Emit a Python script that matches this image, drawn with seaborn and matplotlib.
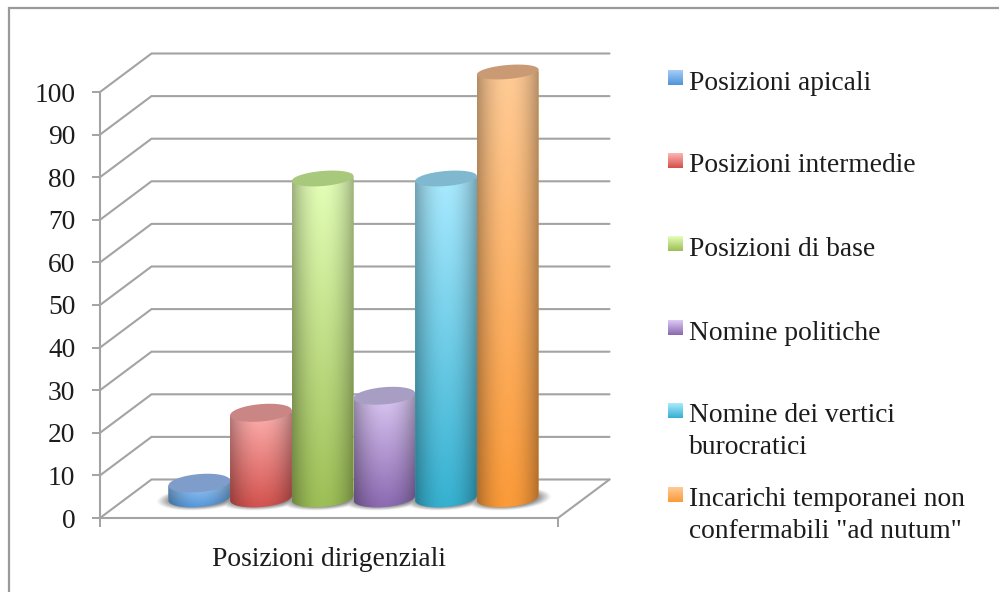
import numpy as np
import pandas as pd
import seaborn as sns
import matplotlib
matplotlib.use("Agg")
import matplotlib.pyplot as plt
from matplotlib.patches import Polygon
from matplotlib.lines import Line2D

series_names = ["Posizioni apicali", "Posizioni intermedie", "Posizioni di base",
                "Nomine politiche", "Nomine dei vertici\nburocratici",
                "Incarichi temporanei non\nconfermabili \"ad nutum\""]
series_values = [3.5, 20, 75, 24, 75, 100]
category = "Posizioni dirigenziali"
y_ticks = list(range(0, 101, 10))

# per-series colours: light top of the body, saturated bottom, cap tint
body_top = ["#a5cdf8", "#ffb4b2", "#e4ffb8", "#dcc9f4", "#aaeaff", "#ffcb96"]
body_bottom = ["#4f94d8", "#d2504c", "#9cbe55", "#8a68b0", "#35b0d0", "#fb9a38"]
cap_colors = ["#7f9dca", "#c98684", "#a8c87c", "#a89ec4", "#7fb8cf", "#c99a74"]

GRID = "#a3a3a3"
INK = "#1c1c1c"
W, H = 999, 592
FONT = "Liberation Serif"
FS = 19.8

sns.set_theme(style="white")
plt.rcParams["font.family"] = [FONT, "DejaVu Serif"]


def ax_rect(x0, x1, y_bottom, y_top):
    return [x0 / W, 1 - y_bottom / H, (x1 - x0) / W, (y_bottom - y_top) / H]


def rgb(c):
    return np.array(matplotlib.colors.to_rgb(c))


fig = plt.figure(figsize=(W / 100, H / 100), dpi=100, facecolor="white")

# front plane of the 3D frame: value axis and floor edge
FX0, FX1, FY0, FY100 = 100, 558, 518, 92
PX_PER_UNIT = (FY0 - FY100) / 100
ax = fig.add_axes(ax_rect(FX0, FX1, FY0, FY100))
ax.set_xlim(0, 1)
ax.set_ylim(0, 100)
ax.set_yticks(y_ticks)
ax.set_xticks([0, 1])
ax.set_xticklabels([])
ax.tick_params(axis="y", length=5.8, width=1.4, color=GRID, pad=12,
               labelsize=FS, labelcolor=INK, left=True)
ax.tick_params(axis="x", length=6.5, width=1.4, color=GRID, bottom=True)
ax.set_xlabel(category, fontsize=FS, color=INK, labelpad=11)
for side in ("top", "right"):
    ax.spines[side].set_visible(False)
for side in ("left", "bottom"):
    ax.spines[side].set_color(GRID)
    ax.spines[side].set_linewidth(1.5)

# back wall gridlines, side wall diagonals and the floor's right edge
dx = 51.5 / (FX1 - FX0)
dv = 38.5 / PX_PER_UNIT
for v in y_ticks:
    ax.add_line(Line2D([0, dx, 1 + dx], [v, v + dv, v + dv], color=GRID, lw=1.5,
                       clip_on=False, solid_joinstyle="miter"))
ax.add_line(Line2D([1, 1 + dx], [0, dv], color=GRID, lw=1.5, clip_on=False))

# cylinders sit halfway into the floor's depth
BX0, BX1 = FX0 + 24.5, FX1 + 24.5
BASE = 498
Y_LOW, Y_HIGH = -12, 112
axb = fig.add_axes(ax_rect(BX0, BX1, BASE - Y_LOW * PX_PER_UNIT, BASE - Y_HIGH * PX_PER_UNIT))
axb.patch.set_alpha(0)

data = pd.DataFrame({"categoria": [category] * len(series_names),
                     "serie": series_names, "valore": series_values})
sns.barplot(data=data, x="categoria", y="valore", hue="serie", hue_order=series_names,
            palette=body_bottom, width=0.808, gap=0, saturation=1, legend=False, ax=axb)

TILT = 2.5 / PX_PER_UNIT
PX_X = 1 / (BX1 - BX0)
theta = np.linspace(0, 2 * np.pi, 160)
bars = sorted(axb.patches, key=lambda p: p.get_x())


def cap_half_height(value):
    # caps closer to eye level look flatter
    return (9.1 - 2.1 * value / 100) / PX_PER_UNIT


# soft contact shadow on the floor, one halo per cylinder
left = min(b.get_x() for b in bars)
right = max(b.get_x() + b.get_width() for b in bars)
sx = np.linspace(left - 0.05, right + 0.05, 500)
sy = np.linspace(-7, 7, 120)
gx, gy = np.meshgrid(sx, sy)
halo = np.zeros(gx.shape)
for bar in bars:
    xc = bar.get_x() + bar.get_width() / 2
    hw = bar.get_width() / 2 + 13 * PX_X
    yc = TILT * (gx - xc) / hw - 0.2
    d = ((gx - xc) / hw) ** 2 + ((gy - yc) / (11.5 / PX_PER_UNIT)) ** 2
    halo = np.maximum(halo, np.clip((1 - d) / 0.55, 0, 1) ** 1.2)
shadow = np.zeros(gx.shape + (4,))
shadow[..., :3] = 0.38
shadow[..., 3] = 0.72 * halo
axb.imshow(shadow, extent=[sx[0], sx[-1], sy[0], sy[-1]], origin="lower",
           aspect="auto", zorder=1, interpolation="bilinear")

# each bar is finished as a shaded cylinder over its own geometry
for i, bar in enumerate(bars):
    x0, w, v = bar.get_x(), bar.get_width(), bar.get_height()
    xc = x0 + w / 2
    z = 3 + i * 2
    bar.set_edgecolor("none")
    bar.set_zorder(z - 1)
    b_base = 9.0 / PX_PER_UNIT
    b_top = cap_half_height(v)

    t = np.linspace(0, np.pi, 80)
    lower_x = xc - (w / 2) * np.cos(t)
    lower_y = -b_base * np.sin(t) + TILT * (lower_x - xc) / (w / 2)
    upper_x = lower_x[::-1]
    upper_y = v + TILT * (upper_x - xc) / (w / 2)
    outline = np.column_stack([np.r_[lower_x, upper_x], np.r_[lower_y, upper_y]])

    ny, nx = 200, 120
    u = np.linspace(-1, 1, nx)
    s = np.linspace(0, 1, ny)[:, None, None]
    top, bottom = rgb(body_top[i]), rgb(body_bottom[i])
    ramp = bottom * (1 - s) + top * s
    side = (0.70 + 0.30 * (1 - np.abs(u) ** 2.0))[None, :, None]
    img = np.clip(ramp * side, 0, 1)
    im = axb.imshow(img, extent=[x0, x0 + w, -b_base - TILT, v + TILT], origin="lower",
                    aspect="auto", zorder=z, interpolation="bilinear")
    body = Polygon(outline, closed=True, transform=axb.transData,
                   facecolor="none", edgecolor="none")
    axb.add_patch(body)
    im.set_clip_path(body)
    bar.set_clip_path(body)

    cap_x = xc + (w / 2) * np.cos(theta)
    cap_y = v + b_top * np.sin(theta) + TILT * np.cos(theta)
    axb.add_patch(Polygon(np.column_stack([cap_x, cap_y]), closed=True,
                          facecolor=cap_colors[i], edgecolor="none", zorder=z + 0.5))

axb.set_xlim(-0.5, 0.5)
axb.set_ylim(Y_LOW, Y_HIGH)
axb.set_axis_off()

# overlay in pixel units for the legend and the outer chart border
axo = fig.add_axes([0, 0, 1, 1], zorder=5)
axo.set_xlim(0, W)
axo.set_ylim(H, 0)
axo.set_axis_off()
axo.patch.set_alpha(0)
axo.add_line(Line2D([8.5, 8.5, W], [H, 7.5, 7.5], color="#9a9a9a", lw=1.6,
                    solid_joinstyle="miter"))

swatch_tops = [70, 153, 236, 320, 403, 487]
for name, yt, top, bottom in zip(series_names, swatch_tops, body_top, body_bottom):
    grad = np.linspace(rgb(top), rgb(bottom), 30)[:, None, :]
    axo.imshow(grad, extent=[668, 683, yt + 15, yt], aspect="auto", zorder=2,
               interpolation="bilinear")
    for k, line in enumerate(name.split("\n")):
        axo.text(689, yt + 19.5 + k * 32, line, fontsize=FS, color=INK,
                 ha="left", va="baseline")
axo.set_xlim(0, W)
axo.set_ylim(H, 0)

fig.savefig("out.png", dpi=100)
